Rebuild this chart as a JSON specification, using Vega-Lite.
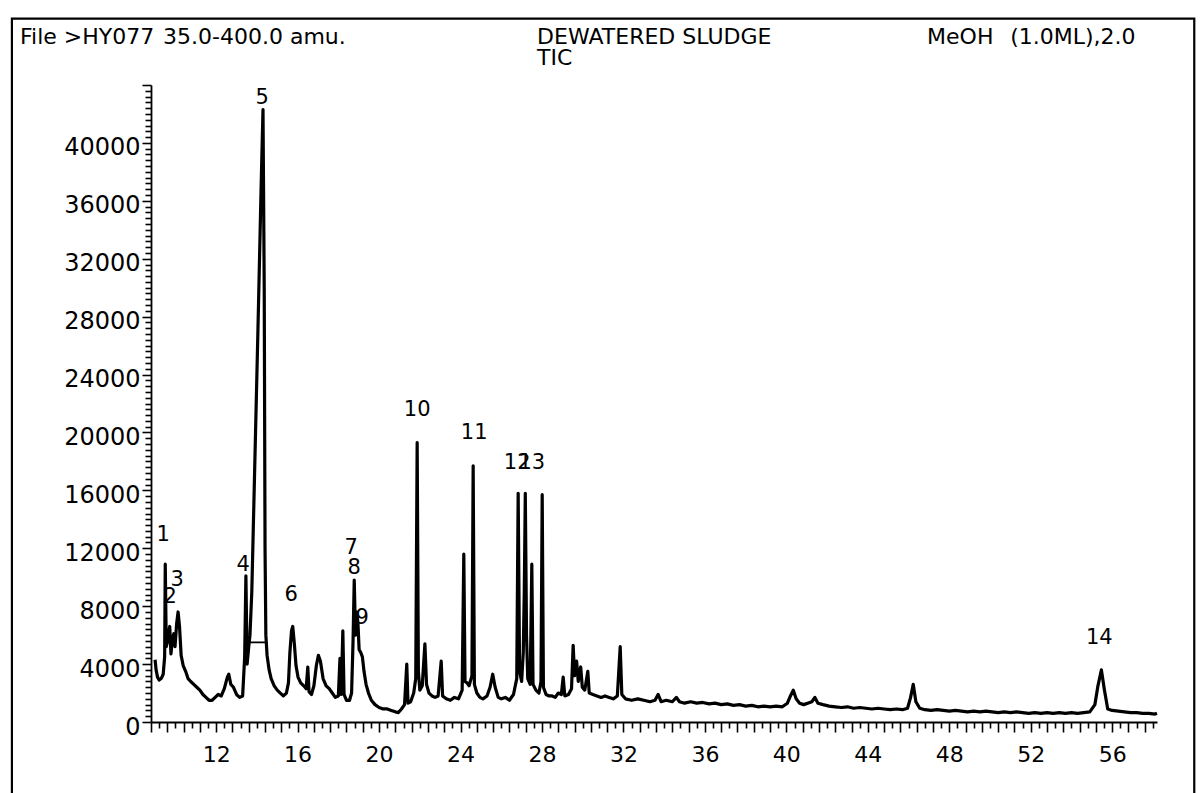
{
  "$schema": "https://vega.github.io/schema/vega-lite/v6.json",
  "width": 1006,
  "height": 637,
  "autosize": "none",
  "padding": {"left": 151, "top": 85, "right": 43, "bottom": 71},
  "background": "white",
  "config": {"view": {"stroke": null}, "font": "DejaVu Sans"},
  "datasets": {
    "tic": [
      {"t":9.00,"v":4300},{"t":9.05,"v":3600},{"t":9.12,"v":3100},{"t":9.20,"v":2900},{"t":9.30,"v":3000},{"t":9.40,"v":3300},{"t":9.47,"v":4500},{"t":9.50,"v":10900},{"t":9.55,"v":5200},{"t":9.62,"v":5600},{"t":9.68,"v":6300},{"t":9.72,"v":6600},{"t":9.78,"v":4700},{"t":9.86,"v":5800},{"t":9.92,"v":6100},{"t":9.98,"v":5200},{"t":10.06,"v":6800},{"t":10.13,"v":7600},{"t":10.20,"v":6600},{"t":10.28,"v":4600},{"t":10.38,"v":3900},{"t":10.50,"v":3500},{"t":10.62,"v":3000},{"t":10.75,"v":2800},{"t":10.90,"v":2600},{"t":11.05,"v":2400},{"t":11.20,"v":2200},{"t":11.35,"v":1900},{"t":11.50,"v":1700},{"t":11.65,"v":1500},{"t":11.80,"v":1500},{"t":11.95,"v":1700},{"t":12.10,"v":1900},{"t":12.25,"v":1800},{"t":12.40,"v":2300},{"t":12.55,"v":3100},{"t":12.62,"v":3300},{"t":12.72,"v":2600},{"t":12.85,"v":2400},{"t":13.00,"v":1900},{"t":13.15,"v":1700},{"t":13.30,"v":1800},{"t":13.40,"v":4500},{"t":13.46,"v":10100},{"t":13.52,"v":4000},{"t":13.60,"v":5200},{"t":13.66,"v":6000},{"t":13.75,"v":9000},{"t":13.90,"v":18000},{"t":14.05,"v":27000},{"t":14.20,"v":36500},{"t":14.30,"v":42300},{"t":14.36,"v":30000},{"t":14.40,"v":12000},{"t":14.44,"v":6000},{"t":14.50,"v":4600},{"t":14.60,"v":3600},{"t":14.70,"v":3000},{"t":14.85,"v":2500},{"t":15.00,"v":2200},{"t":15.15,"v":2000},{"t":15.30,"v":1800},{"t":15.45,"v":2000},{"t":15.55,"v":2700},{"t":15.62,"v":4800},{"t":15.70,"v":6300},{"t":15.76,"v":6600},{"t":15.84,"v":5400},{"t":15.92,"v":3900},{"t":16.02,"v":3100},{"t":16.15,"v":2700},{"t":16.30,"v":2500},{"t":16.42,"v":2300},{"t":16.50,"v":3800},{"t":16.56,"v":2100},{"t":16.68,"v":1900},{"t":16.80,"v":2500},{"t":16.92,"v":3900},{"t":17.02,"v":4600},{"t":17.12,"v":4200},{"t":17.25,"v":3000},{"t":17.40,"v":2500},{"t":17.55,"v":2300},{"t":17.70,"v":2000},{"t":17.85,"v":1700},{"t":18.00,"v":1800},{"t":18.08,"v":4400},{"t":18.14,"v":1900},{"t":18.22,"v":6300},{"t":18.28,"v":1900},{"t":18.40,"v":1500},{"t":18.55,"v":1500},{"t":18.65,"v":2000},{"t":18.72,"v":5500},{"t":18.78,"v":9800},{"t":18.84,"v":6000},{"t":18.90,"v":7600},{"t":18.96,"v":6900},{"t":19.02,"v":5000},{"t":19.10,"v":4800},{"t":19.18,"v":4500},{"t":19.26,"v":3500},{"t":19.36,"v":2600},{"t":19.48,"v":2000},{"t":19.62,"v":1500},{"t":19.80,"v":1200},{"t":20.00,"v":1000},{"t":20.20,"v":900},{"t":20.40,"v":900},{"t":20.60,"v":800},{"t":20.80,"v":700},{"t":20.95,"v":650},{"t":21.10,"v":900},{"t":21.25,"v":1200},{"t":21.36,"v":4000},{"t":21.42,"v":1300},{"t":21.55,"v":1400},{"t":21.70,"v":2000},{"t":21.80,"v":3000},{"t":21.87,"v":19300},{"t":21.93,"v":3500},{"t":22.00,"v":2200},{"t":22.12,"v":2500},{"t":22.25,"v":5400},{"t":22.33,"v":2600},{"t":22.45,"v":2000},{"t":22.60,"v":1800},{"t":22.75,"v":1700},{"t":22.90,"v":1800},{"t":23.05,"v":4200},{"t":23.12,"v":1800},{"t":23.30,"v":1600},{"t":23.50,"v":1500},{"t":23.70,"v":1700},{"t":23.90,"v":1600},{"t":24.08,"v":2200},{"t":24.16,"v":11600},{"t":24.22,"v":2800},{"t":24.32,"v":2700},{"t":24.42,"v":2500},{"t":24.56,"v":3200},{"t":24.62,"v":17700},{"t":24.68,"v":2600},{"t":24.80,"v":2000},{"t":24.95,"v":1700},{"t":25.10,"v":1600},{"t":25.30,"v":1800},{"t":25.45,"v":2400},{"t":25.58,"v":3300},{"t":25.70,"v":2400},{"t":25.85,"v":1700},{"t":26.00,"v":1600},{"t":26.20,"v":1700},{"t":26.40,"v":1500},{"t":26.60,"v":1900},{"t":26.76,"v":3000},{"t":26.83,"v":15800},{"t":26.90,"v":3500},{"t":27.00,"v":2800},{"t":27.08,"v":4800},{"t":27.13,"v":9000},{"t":27.18,"v":15800},{"t":27.24,"v":6000},{"t":27.30,"v":3000},{"t":27.42,"v":2600},{"t":27.50,"v":10900},{"t":27.56,"v":2600},{"t":27.70,"v":2200},{"t":27.85,"v":2000},{"t":27.95,"v":2800},{"t":28.01,"v":15700},{"t":28.07,"v":2400},{"t":28.20,"v":1900},{"t":28.35,"v":1800},{"t":28.50,"v":1800},{"t":28.65,"v":1700},{"t":28.80,"v":2000},{"t":28.95,"v":1900},{"t":29.04,"v":3100},{"t":29.12,"v":1800},{"t":29.30,"v":1900},{"t":29.45,"v":2300},{"t":29.53,"v":5300},{"t":29.60,"v":3200},{"t":29.70,"v":4200},{"t":29.78,"v":2800},{"t":29.90,"v":3800},{"t":29.98,"v":2400},{"t":30.10,"v":2200},{"t":30.25,"v":3500},{"t":30.32,"v":2000},{"t":30.50,"v":1900},{"t":30.70,"v":1800},{"t":30.90,"v":1700},{"t":31.10,"v":1800},{"t":31.30,"v":1700},{"t":31.50,"v":1600},{"t":31.70,"v":1800},{"t":31.84,"v":5200},{"t":31.92,"v":1900},{"t":32.10,"v":1600},{"t":32.40,"v":1500},{"t":32.70,"v":1600},{"t":33.00,"v":1500},{"t":33.30,"v":1400},{"t":33.55,"v":1500},{"t":33.70,"v":1900},{"t":33.85,"v":1400},{"t":34.10,"v":1500},{"t":34.40,"v":1400},{"t":34.60,"v":1700},{"t":34.75,"v":1400},{"t":35.00,"v":1300},{"t":35.30,"v":1400},{"t":35.60,"v":1300},{"t":35.90,"v":1350},{"t":36.20,"v":1250},{"t":36.50,"v":1300},{"t":36.80,"v":1200},{"t":37.10,"v":1250},{"t":37.40,"v":1150},{"t":37.70,"v":1200},{"t":38.00,"v":1100},{"t":38.30,"v":1150},{"t":38.60,"v":1050},{"t":38.90,"v":1100},{"t":39.20,"v":1050},{"t":39.50,"v":1100},{"t":39.80,"v":1050},{"t":40.05,"v":1300},{"t":40.20,"v":1800},{"t":40.34,"v":2200},{"t":40.48,"v":1600},{"t":40.65,"v":1300},{"t":40.85,"v":1200},{"t":41.05,"v":1300},{"t":41.25,"v":1400},{"t":41.40,"v":1700},{"t":41.55,"v":1300},{"t":41.80,"v":1200},{"t":42.10,"v":1100},{"t":42.40,"v":1050},{"t":42.70,"v":1000},{"t":43.00,"v":1050},{"t":43.30,"v":950},{"t":43.60,"v":1000},{"t":43.90,"v":950},{"t":44.20,"v":900},{"t":44.50,"v":950},{"t":44.80,"v":900},{"t":45.10,"v":850},{"t":45.40,"v":900},{"t":45.70,"v":850},{"t":45.95,"v":950},{"t":46.10,"v":1700},{"t":46.23,"v":2600},{"t":46.36,"v":1400},{"t":46.55,"v":950},{"t":46.80,"v":850},{"t":47.10,"v":800},{"t":47.40,"v":850},{"t":47.70,"v":800},{"t":48.00,"v":750},{"t":48.30,"v":800},{"t":48.60,"v":750},{"t":48.90,"v":700},{"t":49.20,"v":750},{"t":49.50,"v":700},{"t":49.80,"v":750},{"t":50.10,"v":700},{"t":50.40,"v":650},{"t":50.70,"v":700},{"t":51.00,"v":650},{"t":51.30,"v":700},{"t":51.60,"v":650},{"t":51.90,"v":600},{"t":52.20,"v":650},{"t":52.50,"v":600},{"t":52.80,"v":650},{"t":53.10,"v":600},{"t":53.40,"v":650},{"t":53.70,"v":600},{"t":54.00,"v":650},{"t":54.30,"v":600},{"t":54.60,"v":650},{"t":54.90,"v":700},{"t":55.15,"v":1200},{"t":55.30,"v":2500},{"t":55.47,"v":3600},{"t":55.62,"v":2200},{"t":55.78,"v":900},{"t":56.00,"v":800},{"t":56.30,"v":750},{"t":56.60,"v":700},{"t":56.90,"v":650},{"t":57.20,"v":650},{"t":57.50,"v":600},{"t":57.80,"v":600},{"t":58.10,"v":550},{"t":58.20,"v":600}
    ],
    "peaks": [
      {"label":"1","t":9.40,"v":12900},
      {"label":"2","t":9.74,"v":8640},
      {"label":"3","t":10.08,"v":9800},
      {"label":"4","t":13.33,"v":10850},
      {"label":"5","t":14.26,"v":43100},
      {"label":"6","t":15.68,"v":8780},
      {"label":"7","t":18.63,"v":12000},
      {"label":"8","t":18.78,"v":10640},
      {"label":"9","t":19.17,"v":7190},
      {"label":"10","t":21.87,"v":21560},
      {"label":"11","t":24.67,"v":19970},
      {"label":"12","t":26.78,"v":17900},
      {"label":"13","t":27.5,"v":17900},
      {"label":"14","t":55.37,"v":5800}
    ],
    "baselines": [
      {"t":13.62,"t2":14.44,"v":5500}
    ],
    "header": [
      {"label":"File >HY077","t":2.37,"v":47340},
      {"label":"35.0-400.0 amu.","t":9.39,"v":47340},
      {"label":"DEWATERED SLUDGE","t":27.76,"v":47340},
      {"label":"TIC","t":27.76,"v":45890},
      {"label":"MeOH","t":46.91,"v":47340},
      {"label":"(1.0ML),2.0","t":50.99,"v":47340}
    ],
    "frame": [
      {"t":1.97,"t2":60.03,"v":-5400,"v2":48580}
    ]
  },
  "encoding": {
    "x": {
      "field": "t", "type": "quantitative",
      "scale": {"domain": [8.8, 58.2], "nice": false, "zero": false},
      "axis": {
        "title": null, "grid": false,
        "domainColor": "black", "domainWidth": 1.8,
        "tickColor": "black", "tickWidth": 1.6,
        "tickSize": {"condition": {"test": "abs(datum.value*1.25 - round(datum.value*1.25)) < 0.01", "value": 10}, "value": 6},
        "values": [8.8,9.2,9.6,10,10.4,10.8,11.2,11.6,12,12.4,12.8,13.2,13.6,14,14.4,14.8,15.2,15.6,16,16.4,16.8,17.2,17.6,18,18.4,18.8,19.2,19.6,20,20.4,20.8,21.2,21.6,22,22.4,22.8,23.2,23.6,24,24.4,24.8,25.2,25.6,26,26.4,26.8,27.2,27.6,28,28.4,28.8,29.2,29.6,30,30.4,30.8,31.2,31.6,32,32.4,32.8,33.2,33.6,34,34.4,34.8,35.2,35.6,36,36.4,36.8,37.2,37.6,38,38.4,38.8,39.2,39.6,40,40.4,40.8,41.2,41.6,42,42.4,42.8,43.2,43.6,44,44.4,44.8,45.2,45.6,46,46.4,46.8,47.2,47.6,48,48.4,48.8,49.2,49.6,50,50.4,50.8,51.2,51.6,52,52.4,52.8,53.2,53.6,54,54.4,54.8,55.2,55.6,56,56.4,56.8,57.2,57.6,58],
        "labelExpr": "(abs(datum.value/4 - round(datum.value/4)) < 0.001 && datum.value >= 12) ? format(datum.value, 'd') : ''",
        "labelFont": "DejaVu Sans", "labelFontSize": 22, "labelColor": "black",
        "labelPadding": 12, "labelOverlap": false, "labelFlush": false
      }
    },
    "y": {
      "field": "v", "type": "quantitative",
      "scale": {"domain": [0, 44000], "nice": false, "zero": false},
      "axis": {
        "title": null, "grid": false,
        "domainColor": "black", "domainWidth": 1.8,
        "tickColor": "black", "tickWidth": 1.6,
        "tickSize": {"condition": {"test": "datum.value % 4000 === 0", "value": 9}, "value": 6},
        "values": [0,400,800,1200,1600,2000,2400,2800,3200,3600,4000,4400,4800,5200,5600,6000,6400,6800,7200,7600,8000,8400,8800,9200,9600,10000,10400,10800,11200,11600,12000,12400,12800,13200,13600,14000,14400,14800,15200,15600,16000,16400,16800,17200,17600,18000,18400,18800,19200,19600,20000,20400,20800,21200,21600,22000,22400,22800,23200,23600,24000,24400,24800,25200,25600,26000,26400,26800,27200,27600,28000,28400,28800,29200,29600,30000,30400,30800,31200,31600,32000,32400,32800,33200,33600,34000,34400,34800,35200,35600,36000,36400,36800,37200,37600,38000,38400,38800,39200,39600,40000,40400,40800,41200,41600,42000,42400,42800,43200,43600,44000],
        "format": "d",
        "labelExpr": "(datum.value % 4000 === 0 && datum.value <= 40000) ? datum.label : ''",
        "labelFont": "DejaVu Sans", "labelFontSize": 24, "labelColor": "black",
        "labelPadding": 2, "labelOffset": 5, "labelOverlap": false, "labelFlush": false
      }
    }
  },
  "layer": [
    {
      "data": {"name": "frame"},
      "mark": {"type": "rect", "fill": null, "stroke": "black", "strokeWidth": 2.2},
      "encoding": {"x2": {"field": "t2"}, "y2": {"field": "v2"}}
    },
    {
      "data": {"name": "tic"},
      "mark": {"type": "line", "color": "black", "strokeWidth": 3.2, "strokeJoin": "round"}
    },
    {
      "data": {"name": "baselines"},
      "mark": {"type": "rule", "color": "black", "strokeWidth": 1.8},
      "encoding": {"x2": {"field": "t2"}}
    },
    {
      "data": {"name": "peaks"},
      "mark": {"type": "text", "font": "DejaVu Sans", "fontSize": 21, "color": "black", "align": "center", "baseline": "middle"},
      "encoding": {"text": {"field": "label"}}
    },
    {
      "data": {"name": "header"},
      "mark": {"type": "text", "font": "DejaVu Sans", "fontSize": 22, "color": "black", "align": "left", "baseline": "middle"},
      "encoding": {"text": {"field": "label"}}
    }
  ]
}
